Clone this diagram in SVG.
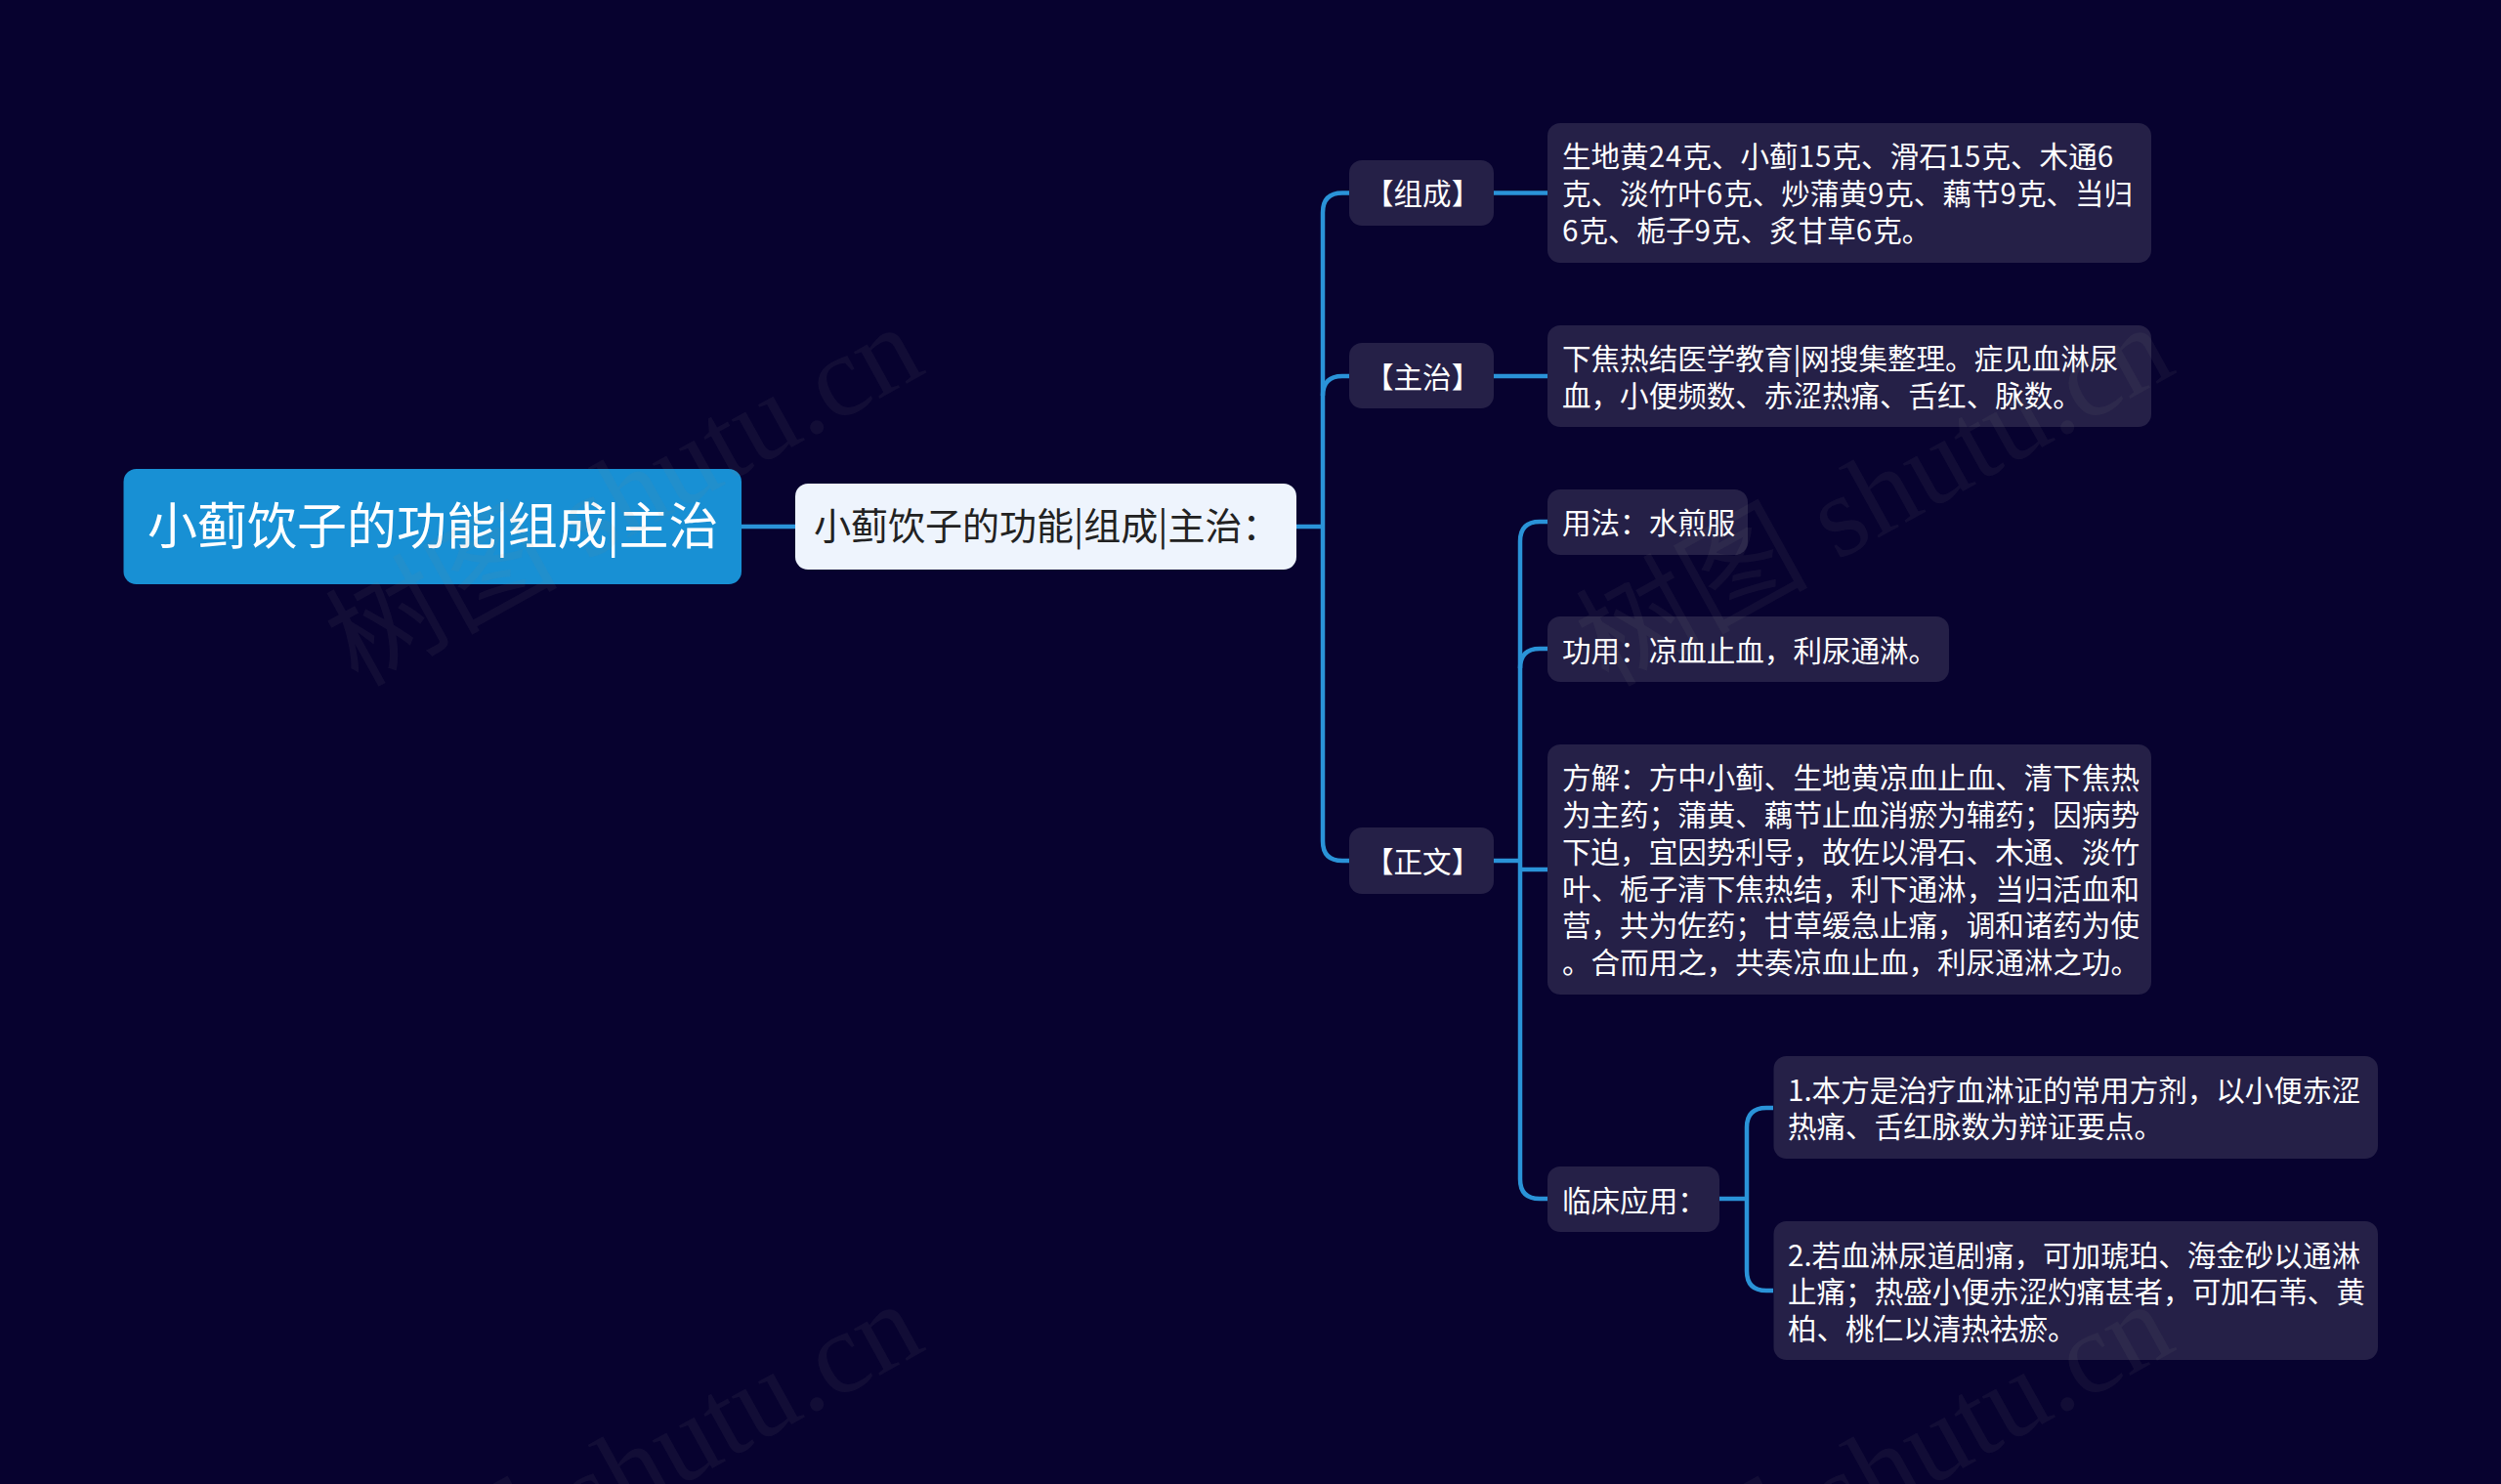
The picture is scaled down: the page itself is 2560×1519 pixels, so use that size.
<svg xmlns="http://www.w3.org/2000/svg" width="2560" height="1519" viewBox="0 0 2560 1519">
<style>
text{font-family:"Noto Sans CJK SC","Noto Sans",sans-serif;fill:#fff;font-size:29.55px}
.n{fill:#252047}
.c{fill:none;stroke:#2a93d8;stroke-width:4.500}
.d{letter-spacing:1px}
.w{font-family:"Liberation Serif","Noto Sans CJK SC",serif;font-size:119px;fill:#808080;fill-opacity:.09}
</style>
<rect width="2560" height="1519" fill="#07022f"/>
<g id="connectors" class="c">
<path d="M759 539H814"/>
<path d="M1327 539H1354"/>
<path d="M1381 197.500H1374Q1354 197.500 1354 217.500V861Q1354 881 1374 881H1381"/>
<path d="M1381 385H1374Q1354 385 1354 405"/>
<path d="M1529 197.500H1584"/>
<path d="M1529 385H1584"/>
<path d="M1529 881H1556"/>
<path d="M1584 534H1576Q1556 534 1556 554V1207Q1556 1227 1576 1227H1584"/>
<path d="M1584 664H1576Q1556 664 1556 684"/>
<path d="M1556 890H1584"/>
<path d="M1760 1227H1788"/>
<path d="M1815 1134H1808Q1788 1134 1788 1154V1301Q1788 1321 1808 1321H1815"/>
</g>
<g id="root"><rect x="126.500" y="480" width="632.500" height="118" rx="13" fill="#1890d4"/><text x="151" y="557" style="font-size:51px">小蓟饮子的功能<tspan dx="-1">|</tspan><tspan dx="-1">组成</tspan><tspan dx="-1">|</tspan><tspan dx="-1">主治</tspan></text></g>
<g id="sub"><rect x="814" y="495" width="513" height="88" rx="13" fill="#eef4fd"/><text x="833" y="552" style="font-size:38px;fill:#222">小蓟饮子的功能|组成|主治：</text></g>
<g id="n-zucheng"><rect class="n" x="1381" y="164" width="148" height="67" rx="13"/><text x="1397" y="209">【组成】</text></g>
<g id="n-zhuzhi"><rect class="n" x="1381" y="351" width="148" height="67" rx="13"/><text x="1397" y="397">【主治】</text></g>
<g id="n-zhengwen"><rect class="n" x="1381" y="847" width="148" height="68" rx="13"/><text x="1397" y="893">【正文】</text></g>
<g id="l-zucheng"><rect class="n" x="1584" y="126" width="618" height="143" rx="13"/><text x="1599" y="171">生地黄<tspan class="d">24</tspan>克、小蓟<tspan class="d">15</tspan>克、滑石<tspan class="d">15</tspan>克、木通<tspan class="d">6</tspan></text><text x="1599" y="209">克、淡竹叶<tspan class="d">6</tspan>克、炒蒲黄<tspan class="d">9</tspan>克、藕节<tspan class="d">9</tspan>克、当归</text><text x="1599" y="247"><tspan class="d">6</tspan>克、栀子<tspan class="d">9</tspan>克、炙甘草<tspan class="d">6</tspan>克。</text></g>
<g id="l-zhuzhi"><rect class="n" x="1584" y="333" width="618" height="104" rx="13"/><text x="1599" y="378">下焦热结医学教育|网搜集整理。症见血淋尿</text><text x="1599" y="416">血，小便频数、赤涩热痛、舌红、脉数。</text></g>
<g id="l-yongfa"><rect class="n" x="1584" y="501" width="205" height="67" rx="13"/><text x="1599" y="546">用法：水煎服</text></g>
<g id="l-gongyong"><rect class="n" x="1584" y="631" width="411" height="67" rx="13"/><text x="1599" y="677">功用：凉血止血，利尿通淋。</text></g>
<g id="l-fangjie"><rect class="n" x="1584" y="762" width="618" height="256" rx="13"/><text x="1599" y="807">方解：方中小蓟、生地黄凉血止血、清下焦热</text><text x="1599" y="845">为主药；蒲黄、藕节止血消瘀为辅药；因病势</text><text x="1599" y="883">下迫，宜因势利导，故佐以滑石、木通、淡竹</text><text x="1599" y="921">叶、栀子清下焦热结，利下通淋，当归活血和</text><text x="1599" y="958">营，共为佐药；甘草缓急止痛，调和诸药为使</text><text x="1599" y="996">。合而用之，共奏凉血止血，利尿通淋之功。</text></g>
<g id="l-linchuang"><rect class="n" x="1584" y="1194" width="176" height="67" rx="13"/><text x="1599" y="1240">临床应用：</text></g>
<g id="l-1"><rect class="n" x="1815.500" y="1081" width="618.500" height="105" rx="13"/><text x="1830" y="1127">1.本方是治疗血淋证的常用方剂，以小便赤涩</text><text x="1830" y="1164">热痛、舌红脉数为辩证要点。</text></g>
<g id="l-2"><rect class="n" x="1815.500" y="1250" width="618.500" height="142" rx="13"/><text x="1830" y="1296">2.若血淋尿道剧痛，可加琥珀、海金砂以通淋</text><text x="1830" y="1333">止痛；热盛小便赤涩灼痛甚者，可加石苇、黄</text><text x="1830" y="1371">柏、桃仁以清热祛瘀。</text></g>
<g id="watermark">
<text class="w" transform="translate(366 704) rotate(-29)">树图 shutu.cn</text>
<text class="w" transform="translate(1646 704) rotate(-29)">树图 shutu.cn</text>
<text class="w" transform="translate(366 1704) rotate(-29)">树图 shutu.cn</text>
<text class="w" transform="translate(1646 1704) rotate(-29)">树图 shutu.cn</text>
</g>
</svg>
